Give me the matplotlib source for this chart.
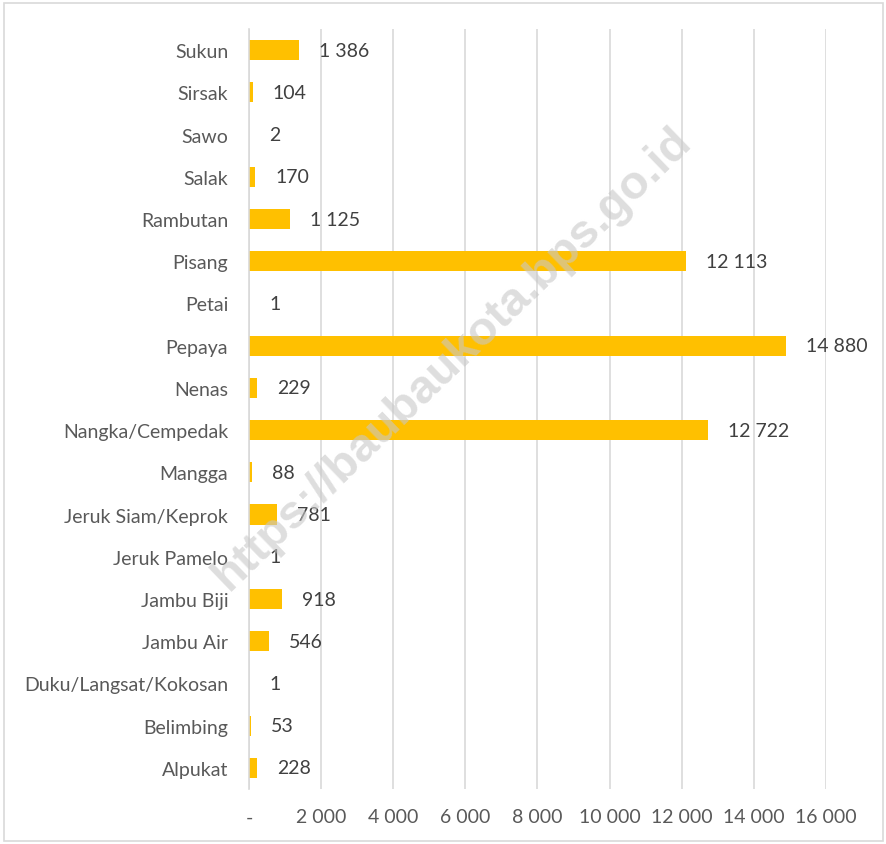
import matplotlib
matplotlib.use("Agg")
import matplotlib.pyplot as plt
from matplotlib.patches import Rectangle

# Fruit production (top to bottom as shown)
fruits = ["Sukun", "Sirsak", "Sawo", "Salak", "Rambutan", "Pisang", "Petai",
          "Pepaya", "Nenas", "Nangka/Cempedak", "Mangga", "Jeruk Siam/Keprok",
          "Jeruk Pamelo", "Jambu Biji", "Jambu Air", "Duku/Langsat/Kokosan",
          "Belimbing", "Alpukat"]
values = [1386, 104, 2, 170, 1125, 12113, 1, 14880, 229, 12722, 88, 781,
          1, 918, 546, 1, 53, 228]
xticks = [0, 2000, 4000, 6000, 8000, 10000, 12000, 14000, 16000]


def fmt(v):
    if v == 0:
        return "-"
    return f"{v:,}".replace(",", " ")


plt.rcParams['font.family'] = ['Lato', 'DejaVu Sans']

fig = plt.figure(figsize=(8.87, 8.45), dpi=100)
ax = fig.add_axes([249 / 887, 1 - 790 / 845, 577 / 887, 760 / 845])

ypos = list(range(len(fruits)))[::-1]
ax.barh(ypos, values, height=0.48, color="#FFC000", zorder=3)

for y, v in zip(ypos, values):
    ax.annotate(fmt(v), xy=(v, y), xytext=(14.5, 0), textcoords="offset points",
                va="center", ha="left", fontsize=14, color="#404040", zorder=4)

ax.set_xlim(0, 16000)
ax.set_ylim(-0.5, len(fruits) - 0.5)
ax.set_yticks(ypos)
ax.set_yticklabels(fruits, fontsize=14, color="#595959")
ax.set_xticks(xticks)
ax.set_xticklabels([fmt(t) for t in xticks], fontsize=14, color="#595959")
ax.tick_params(axis="both", length=0)
ax.tick_params(axis="x", pad=14)
ax.tick_params(axis="y", pad=15)

ax.grid(axis="x", color="#D9D9D9", linewidth=1.2, zorder=0)
for s in ["top", "right", "bottom"]:
    ax.spines[s].set_visible(False)
ax.spines["left"].set_color("#D9D9D9")
ax.spines["left"].set_linewidth(1.2)
ax.spines["left"].set_zorder(3)

# watermark
fig.text(0.51, 0.575, "https://baubaukota.bps.go.id", rotation=44,
         fontsize=34, fontweight="bold", family="Liberation Sans",
         color="#C8C8C8", alpha=0.6, ha="center", va="center", zorder=10)

# outer frame
fig.patches.append(Rectangle((4 / 887, 3 / 845), 879 / 887, 838 / 845,
                             transform=fig.transFigure, fill=False,
                             edgecolor="#D9D9D9", linewidth=1.2))

fig.savefig("out.png", dpi=100)
